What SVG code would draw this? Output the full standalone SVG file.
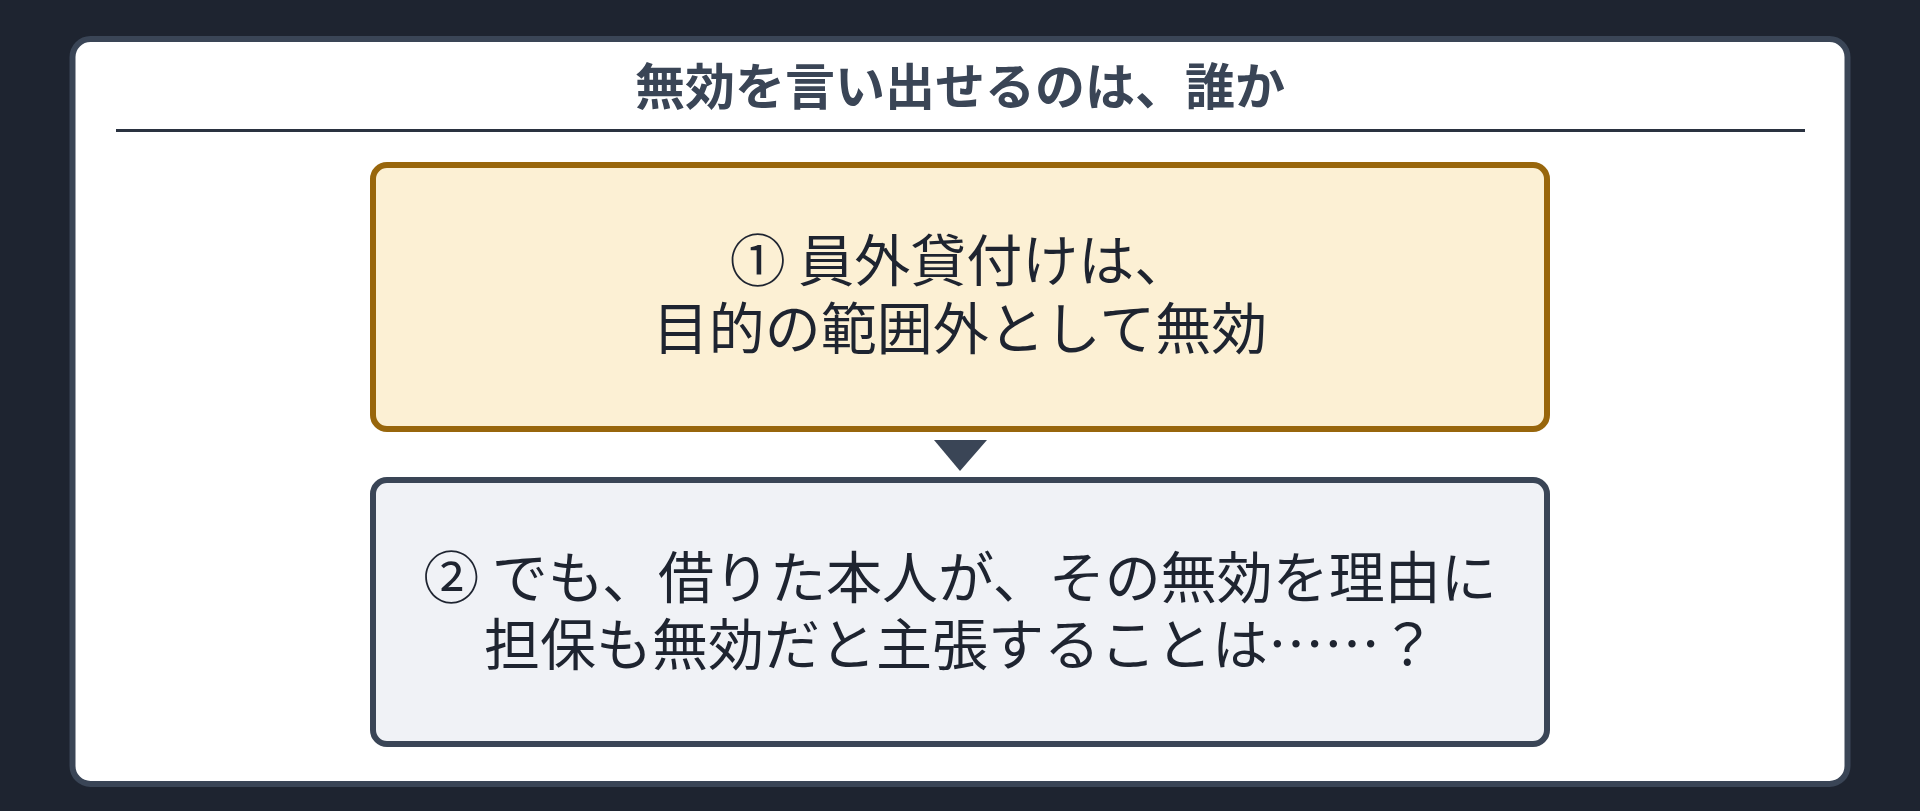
<svg xmlns="http://www.w3.org/2000/svg" width="1920" height="811" viewBox="0 0 1920 811">
  <style>
    .bg { fill: #1e2430; }
    .card { fill: #ffffff; stroke: #3a4556; stroke-width: 6; }
    .title { font-family: "Noto Sans CJK JP", "Noto Sans", sans-serif; font-size: 50px; font-weight: 700; fill: #3a4556; text-anchor: middle; }
    .rule { stroke: #2a3240; stroke-width: 3; }
    .box1 { fill: #fcf0d4; stroke: #98660c; stroke-width: 6; }
    .box2 { fill: #f0f2f6; stroke: #3a4556; stroke-width: 6; }
    .label { font-family: "Noto Sans CJK JP", "Noto Sans", sans-serif; font-size: 56px; font-weight: 400; fill: #1e2430; text-anchor: middle; }
    .arrow { fill: #3a4556; }
  </style>
  <rect class="bg" x="0" y="0" width="1920" height="811"/>
  <g id="card">
    <rect class="card" x="72.5" y="39" width="1775" height="745" rx="18" ry="18"/>
    <text class="title" x="960" y="105">無効を言い出せるのは、誰か</text>
    <line class="rule" x1="116" y1="130.5" x2="1805" y2="130.5"/>
  </g>
  <g id="node1">
    <rect class="box1" x="373" y="165" width="1174" height="264" rx="14" ry="14"/>
    <text class="label"><tspan x="960" y="281">① 員外貸付けは、</tspan><tspan x="960" y="349">目的の範囲外として無効</tspan></text>
  </g>
  <g id="connectors">
    <polygon class="arrow" points="934,440 987,440 960,471"/>
  </g>
  <g id="node2">
    <rect class="box2" x="373" y="480" width="1174" height="264" rx="14" ry="14"/>
    <text class="label"><tspan x="960" y="598">② でも、借りた本人が、その無効を理由に</tspan><tspan x="960" y="665">担保も無効だと主張することは……？</tspan></text>
  </g>
</svg>
